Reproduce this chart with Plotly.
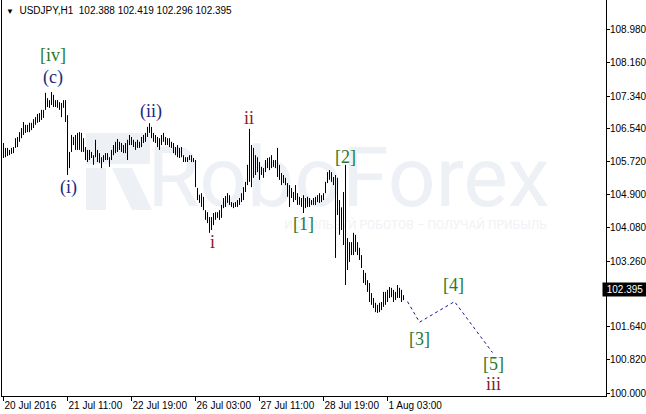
import plotly.graph_objects as go

# ---------------- data ----------------
symbol = "USDJPY,H1"
last_open = 102.388
last_close = 102.395

high = [
    106.18, 106.06, 106.06, 106.01, 106.06, 106.08, 106.30, 106.33, 106.45, 106.55,
    106.70, 106.63, 106.63, 106.68, 106.68, 106.77, 106.82, 106.90, 106.92, 107.00,
    107.00, 107.42, 107.29, 107.24, 107.44, 107.37, 107.24, 107.24, 107.19, 107.17,
    107.24, 107.24, 106.87, 105.96, 106.38, 106.33, 106.38, 106.43, 106.45, 106.43,
    106.30, 106.08, 106.01, 106.01, 105.96, 105.88, 106.26, 106.01, 105.93, 105.83,
    105.88, 105.93, 105.93, 105.83, 106.01, 106.13, 106.21, 106.28, 106.21, 106.18,
    106.13, 106.18, 106.26, 106.38, 106.33, 106.26, 106.21, 106.26, 106.21, 106.33,
    106.38, 106.43, 106.58, 106.67, 106.58, 106.43, 106.38, 106.33, 106.30, 106.38,
    106.43, 106.33, 106.30, 106.30, 106.21, 106.18, 106.08, 106.13, 106.06, 106.08,
    105.88, 105.83, 105.83, 105.88, 105.88, 105.81, 105.76, 105.07, 104.90, 104.94,
    104.85, 104.52, 104.47, 104.35, 104.35, 104.45, 104.47, 104.47, 104.52, 104.65,
    104.82, 104.87, 104.94, 104.89, 104.72, 104.70, 104.72, 104.77, 104.82, 104.94,
    105.09, 105.22, 105.64, 106.53, 106.13, 106.06, 105.88, 105.83, 105.71, 105.59,
    105.56, 105.76, 105.81, 105.83, 105.88, 105.76, 105.76, 106.06, 105.64, 105.44,
    105.39, 105.32, 105.19, 105.14, 105.07, 104.97, 105.14, 104.94, 104.85, 104.82,
    104.89, 104.82, 104.85, 104.82, 104.77, 104.82, 104.85, 104.89, 104.94, 104.89,
    104.94, 105.22, 105.46, 105.51, 105.46, 105.34, 105.39, 105.32, 104.77, 104.59,
    104.97, 105.64, 103.83, 103.73, 103.73, 103.96, 103.91, 103.73, 103.59, 103.41,
    103.04, 102.97, 102.79, 102.72, 102.47, 102.35, 102.23, 102.18, 102.23, 102.25,
    102.50, 102.50, 102.55, 102.62, 102.60, 102.55, 102.50, 102.67, 102.60, 102.55,
    102.419,
]

low = [
    105.81, 105.83, 105.86, 105.88, 105.91, 105.93, 106.06, 106.08, 106.21, 106.30,
    106.38, 106.43, 106.45, 106.45, 106.50, 106.55, 106.63, 106.68, 106.70, 106.75,
    106.80, 107.00, 107.07, 107.05, 107.12, 107.07, 107.07, 107.05, 107.00, 106.82,
    107.05, 106.70, 105.39, 105.56, 105.96, 106.13, 106.01, 106.01, 106.01, 105.96,
    105.96, 105.76, 105.71, 105.76, 105.81, 105.64, 105.83, 105.71, 105.69, 105.56,
    105.71, 105.76, 105.76, 105.59, 105.76, 105.88, 105.93, 105.96, 106.01, 105.96,
    105.93, 105.93, 105.76, 106.13, 106.13, 106.08, 106.01, 106.06, 106.06, 106.08,
    106.18, 106.21, 106.33, 106.43, 106.30, 106.21, 106.18, 106.08, 106.01, 106.13,
    106.21, 106.13, 106.13, 106.08, 106.06, 105.93, 105.88, 105.83, 105.81, 105.83,
    105.71, 105.71, 105.71, 105.76, 105.71, 105.71, 105.09, 104.77, 104.70, 104.60,
    104.52, 104.28, 104.20, 103.96, 104.03, 104.15, 104.28, 104.33, 104.28, 104.33,
    104.57, 104.60, 104.70, 104.65, 104.60, 104.57, 104.60, 104.60, 104.65, 104.72,
    104.77, 104.97, 105.14, 105.22, 105.09, 105.32, 105.39, 105.46, 105.27, 105.39,
    105.32, 105.46, 105.56, 105.51, 105.56, 105.59, 105.56, 105.34, 105.27, 105.14,
    105.19, 105.14, 104.85, 104.60, 104.82, 104.72, 104.77, 104.65, 104.65, 104.60,
    104.45, 104.57, 104.60, 104.60, 104.65, 104.65, 104.65, 104.72, 104.70, 104.72,
    104.77, 104.94, 105.19, 105.27, 105.22, 105.14, 103.34, 104.40, 103.91, 104.03,
    103.66, 102.67, 103.04, 103.24, 103.41, 103.41, 103.49, 103.41, 103.29, 103.09,
    102.72, 102.67, 102.50, 102.25, 102.18, 102.10, 102.00, 101.98, 102.00, 102.05,
    102.13, 102.18, 102.25, 102.35, 102.37, 102.25, 102.30, 102.35, 102.35, 102.25,
    102.296,
]

time_labels = ["20 Jul 2016", "21 Jul 11:00", "22 Jul 19:00", "26 Jul 03:00",
               "27 Jul 11:00", "28 Jul 19:00", "1 Aug 03:00"]
time_label_bars = [0, 32, 64, 96, 128, 160, 192]

price_ticks = [100.000, 100.820, 101.640, 103.260, 104.080, 104.900,
               105.720, 106.540, 107.340, 108.160, 108.980]

# Elliott-wave forecast path (bar index, price)
forecast_bar = [202, 208, 225.5, 244.5]
forecast_price = [102.26, 101.75, 102.26, 101.00]

# wave labels: text, bar index, price, colour group
wave_labels = [
    ("[iv]", 24.5, 108.36, "green"),
    ("(c)", 24.5, 107.81, "navy"),
    ("(i)", 32.7, 105.07, "navy"),
    ("(ii)", 73.7, 106.96, "navy"),
    ("i", 104.5, 103.73, "red"),
    ("ii", 122.8, 106.80, "red"),
    ("[1]", 150.0, 104.18, "green"),
    ("[2]", 171.0, 105.84, "green"),
    ("[3]", 208.2, 101.34, "green"),
    ("[4]", 225.2, 102.67, "green"),
    ("[5]", 245.2, 100.71, "green"),
    ("iii", 244.8, 100.22, "red"),
]

# ---------------- styles ----------------
label_colors = {"green": "#2b7a2b", "navy": "#22297e", "red": "#8a1a26"}
wm_color = "#edf0f4"
axis_font = dict(family="Liberation Sans, Arial, sans-serif", size=10, color="black")

# ---------------- figure ----------------
bx, by = [], []
for i, (h, l) in enumerate(zip(high, low)):
    bx += [i, i, None]
    by += [l, h, None]

fig = go.Figure()
fig.add_trace(go.Scatter(x=bx, y=by, mode="lines",
                         line=dict(color="black", width=1),
                         hoverinfo="skip", showlegend=False))
fig.add_trace(go.Scatter(x=forecast_bar, y=forecast_price, mode="lines",
                         line=dict(color="#1a1a8c", width=1, dash="dot"),
                         hoverinfo="skip", showlegend=False))

# plot area geometry in pixels: x 2..606, y 0..396
def px(xpix):
    return (xpix - 2) / 604.0

def py(ypix):
    return (396 - ypix) / 396.0

shapes = []
# watermark logo (approximate) and text, below the bars
shapes.append(dict(type="rect", xref="paper", yref="paper", layer="below",
                   x0=px(86), x1=px(150), y0=py(164), y1=py(133),
                   line=dict(width=0), fillcolor=wm_color))
shapes.append(dict(type="rect", xref="paper", yref="paper", layer="below",
                   x0=px(86), x1=px(106), y0=py(210), y1=py(168),
                   line=dict(width=0), fillcolor=wm_color))
shapes.append(dict(type="path", xref="paper", yref="paper", layer="below",
                   path="M {a},{b} L {c},{b} L {d},{e} L {f},{e} Z".format(
                       a=px(112), c=px(132), b=py(168), d=px(152), f=px(132), e=py(210)),
                   line=dict(width=0), fillcolor=wm_color))
shapes.append(dict(type="rect", xref="paper", yref="paper", layer="below",
                   x0=px(157), x1=px(540), y0=py(212), y1=py(130),
                   line=dict(width=0), fillcolor="rgba(0,0,0,0)",
                   label=dict(text="RoboForex", textposition="middle center",
                              font=dict(family="Roboto", size=84, color=wm_color))))
shapes.append(dict(type="rect", xref="paper", yref="paper", layer="below",
                   x0=px(288), x1=px(543), y0=py(232), y1=py(216),
                   line=dict(width=0), fillcolor="rgba(0,0,0,0)",
                   label=dict(text="ИСПОЛЬЗУЙ РОБОТОВ – ПОЛУЧАЙ ПРИБЫЛЬ",
                              textposition="middle center",
                              font=dict(family="Roboto", size=12, color="#f0f2f5"))))

annotations = []
for text, xb, yp, grp in wave_labels:
    annotations.append(dict(x=xb, y=yp, xref="x", yref="y", text=text,
                            showarrow=False, xanchor="center", yanchor="middle",
                            font=dict(family="Liberation Serif, Times New Roman, serif",
                                      size=18, color=label_colors[grp])))

header = ("<span style='font-size:8px'>▼</span>\u00a0\u00a0" + symbol + "\u00a0\u00a0"
          + " ".join("{:.3f}".format(v) for v in [last_open, high[-1], low[-1], last_close]))
annotations.append(dict(x=px(3), y=py(10), xref="paper", yref="paper", text=header,
                        showarrow=False, xanchor="left", yanchor="middle",
                        bgcolor="white", borderpad=2,
                        font=dict(family="Liberation Sans, Arial, sans-serif", size=10,
                                  color="black")))
annotations.append(dict(x=px(602), y=last_close, xref="paper", yref="y",
                        text="{:.3f}".format(last_close), showarrow=False,
                        xanchor="left", yanchor="middle", yshift=7,
                        bgcolor="black", borderpad=1, width=42, height=11,
                        font=dict(family="Liberation Sans, Arial, sans-serif", size=10,
                                  color="white")))

fig.update_layout(
    width=646, height=414,
    margin=dict(l=2, r=40, t=0, b=18, pad=0, autoexpand=False),
    paper_bgcolor="white", plot_bgcolor="white",
    showlegend=False, hovermode=False,
    shapes=shapes, annotations=annotations,
    xaxis=dict(range=[-0.75, 301.25], showgrid=False, zeroline=False,
               showline=True, linecolor="black", linewidth=1, mirror=False,
               ticks="outside", ticklen=4, tickcolor="black", tickwidth=1,
               tickvals=time_label_bars, ticktext=time_labels,
               ticklabelposition="outside right", tickfont=axis_font),
    yaxis=dict(range=[99.926, 109.716], side="right", showgrid=False, zeroline=False,
               showline=True, linecolor="black", linewidth=1, mirror=True,
               ticks="outside", ticklen=3, tickcolor="black", tickwidth=1,
               ticklabelstandoff=-2,
               tickvals=price_ticks, ticktext=["{:.3f}".format(v) for v in price_ticks],
               tickfont=axis_font),
)

fig.write_html("out.html",
               config={"displayModeBar": False, "staticPlot": True},
               post_script="document.body.style.margin='0';document.body.style.overflow='hidden';")
